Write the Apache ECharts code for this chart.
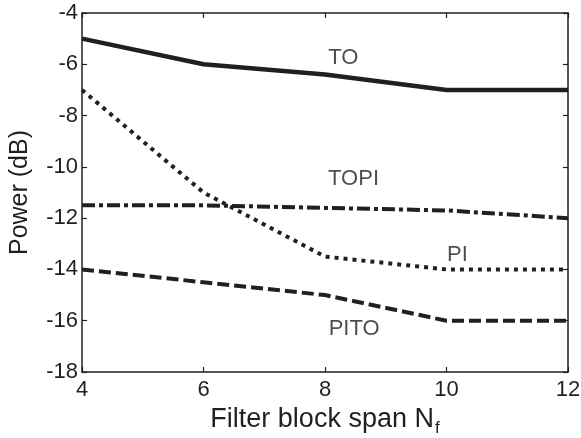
<!DOCTYPE html>
<html>
<head>
<meta charset="utf-8">
<script src="https://cdn.jsdelivr.net/npm/echarts@6/dist/echarts.min.js"></script>
<style>
html,body{margin:0;padding:0;background:#fff;}
#main{width:581px;height:438px;}
</style>
</head>
<body>
<div id="main"></div>
<script>
// 数据
var spans = [4, 6, 8, 10, 12];
var toVals   = [-5, -6, -6.4, -7, -7];
var piVals   = [-7, -11, -13.5, -14, -14];
var topiVals = [-11.5, -11.5, -11.6, -11.7, -12];
var pitoVals = [-14, -14.5, -15, -16, -16];
var labelNames = ['TO', 'TOPI', 'PI', 'PITO'];
var labelPos = [[8.3, -5.75], [8.47, -10.48], [10.18, -13.44], [8.48, -16.33]];

function pairs(xs, ys){
	var out = [];
	for (var i = 0; i < xs.length; i++) out.push([xs[i], ys[i]]);
	return out;
}

var ink = '#231f20';
var font = 'Liberation Sans, Arial, sans-serif';

var myChar = echarts.init(document.getElementById('main'));
var boxAxis = {
	axisLine: {show: true, lineStyle: {color: ink, width: 1.5}},
	axisTick: {show: true, inside: true, length: 5, lineStyle: {color: ink, width: 1.2}},
	splitLine: {show: false}
};
var option = {
	backgroundColor: '#fff',
	animation: false,
	grid: {left: 82, right: 13, top: 13, bottom: 66, outerBoundsMode: 'none', containLabel: false},
	xAxis: [
		Object.assign({
			type: 'value', min: 4, max: 12, interval: 2, position: 'bottom',
			axisLabel: {color: ink, fontSize: 22, fontFamily: font, margin: 7},
			name: '{n|Filter block span N}{s|f}',
			nameLocation: 'middle', nameGap: 30,
			nameTextStyle: {
				rich: {
					n: {fontSize: 27, color: ink, fontFamily: font},
					s: {fontSize: 17, color: ink, fontFamily: font, padding: [18, 0, 0, 1]}
				}
			}
		}, boxAxis),
		Object.assign({
			type: 'value', min: 4, max: 12, interval: 2, position: 'top',
			axisLabel: {show: false}
		}, boxAxis)
	],
	yAxis: [
		Object.assign({
			type: 'value', min: -18, max: -4, interval: 2, position: 'left',
			axisLabel: {color: ink, fontSize: 22, fontFamily: font, margin: 4},
			name: 'Power (dB)', nameLocation: 'middle', nameGap: 49,
			nameTextStyle: {color: ink, fontSize: 25, fontFamily: font}
		}, boxAxis),
		Object.assign({
			type: 'value', min: -18, max: -4, interval: 2, position: 'right',
			axisLabel: {show: false}
		}, boxAxis)
	],
	series: [
		{
			name: 'TO', type: 'line', data: pairs(spans, toVals),
			symbol: 'none', lineStyle: {color: ink, width: 4.5}
		},
		{
			name: 'PI', type: 'line', data: pairs(spans, piVals),
			symbol: 'none', lineStyle: {color: ink, width: 4, type: [4, 5]}
		},
		{
			name: 'TOPI', type: 'line', data: pairs(spans, topiVals),
			symbol: 'none', lineStyle: {color: ink, width: 4, type: [13, 4, 4, 4]}
		},
		{
			name: 'PITO', type: 'line', data: pairs(spans, pitoVals),
			symbol: 'none', lineStyle: {color: ink, width: 4, type: [12, 5]}
		},
		{
			name: 'labels', type: 'scatter', symbolSize: 0,
			data: labelPos.map(function(p, i){ return {value: p, name: labelNames[i]}; }),
			label: {
				show: true, position: 'inside', formatter: '{b}',
				color: ink, fontSize: 22, fontFamily: font
			},
			silent: true
		}
	]
};
myChar.setOption(option);
</script>
</body>
</html>
